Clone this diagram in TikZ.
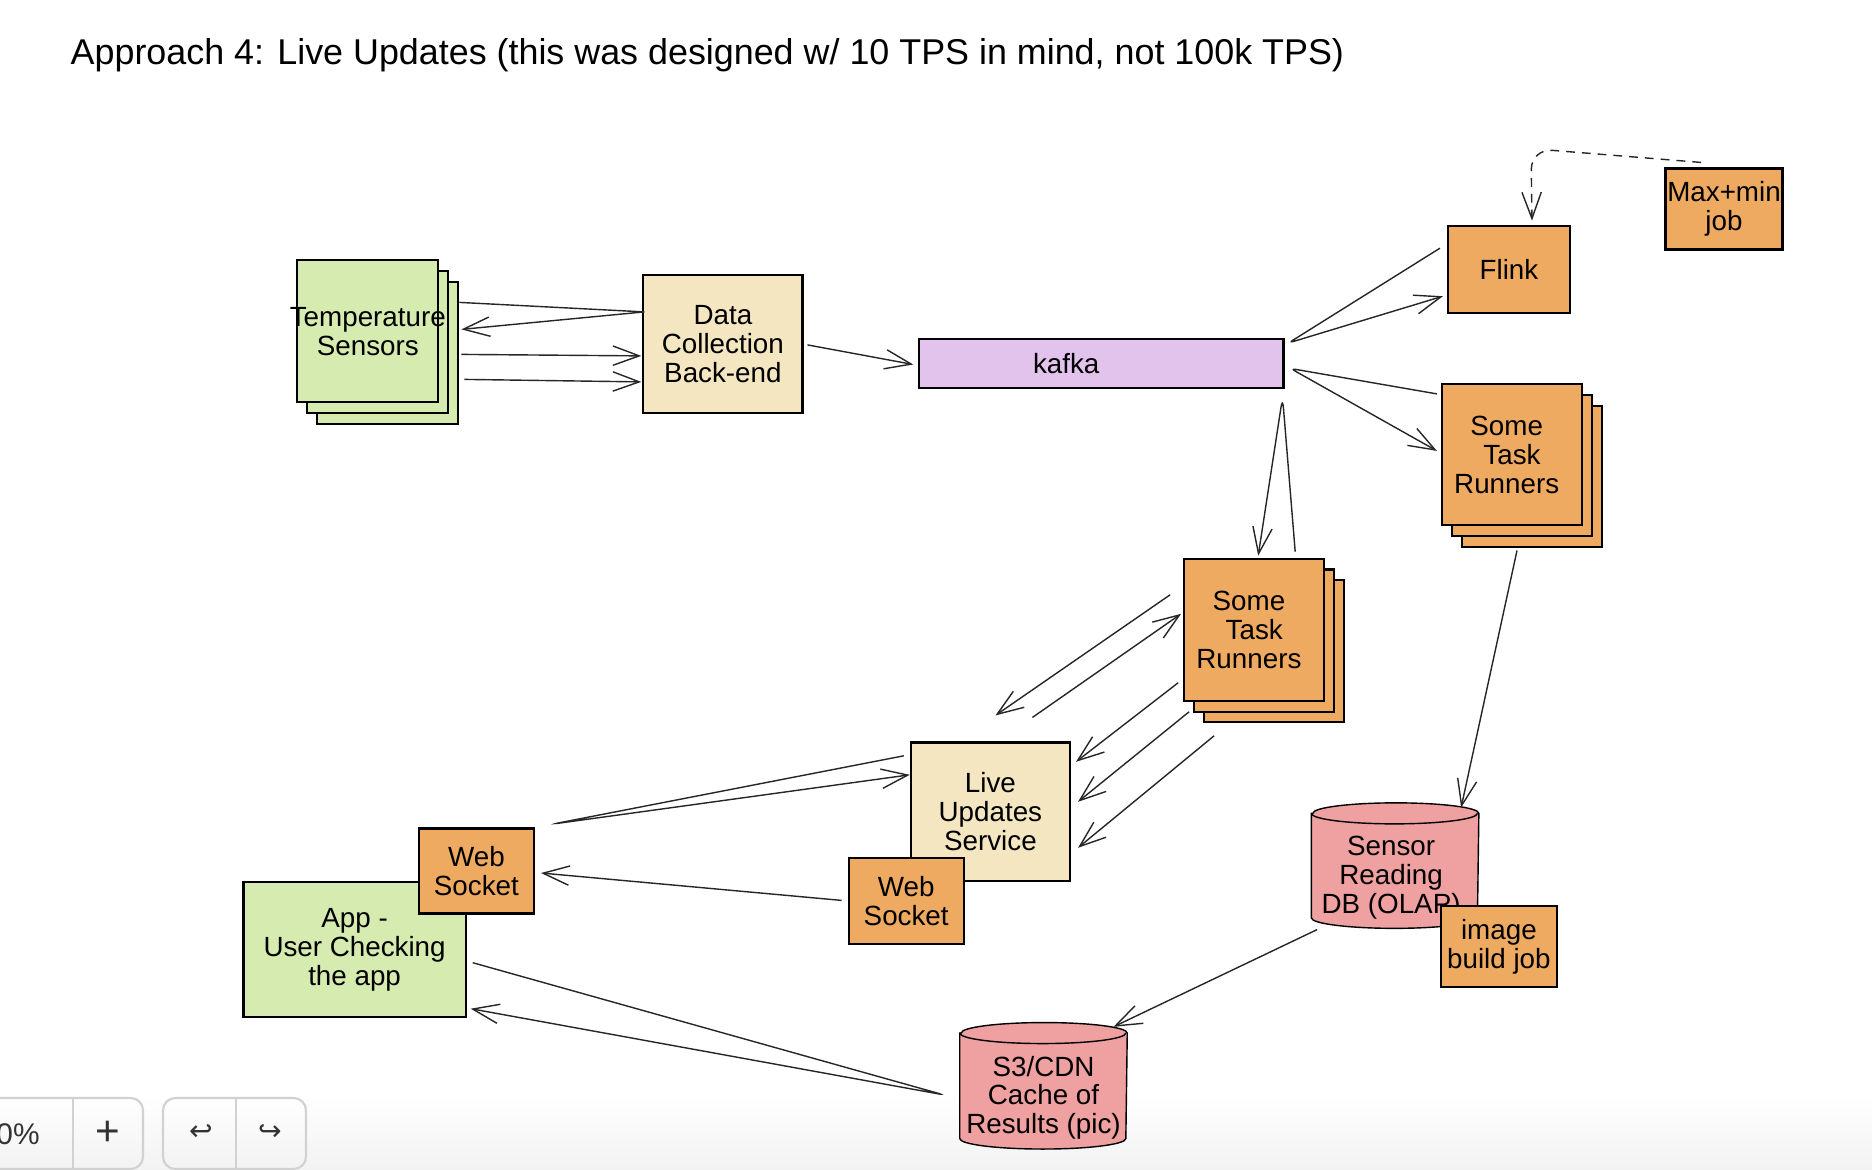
\documentclass[tikz,border=0pt]{standalone}
\usepackage{fontspec}
\setmainfont{Liberation Sans}
\newfontfamily\symfont{DejaVu Sans}
\usetikzlibrary{arrows.meta,calc,shadows}

\definecolor{sensorgreen}{HTML}{D6EBB0}
\definecolor{servicetan}{HTML}{F3E6C0}
\definecolor{kafkapurple}{HTML}{E1C3EC}
\definecolor{joborange}{HTML}{EEAA60}
\definecolor{storepink}{HTML}{EFA0A0}

\begin{document}
\begin{tikzpicture}[x=0.01cm, y=-0.01cm,
  box/.style={rectangle, draw=black, line width=0.6pt, inner sep=0pt, align=center,
    font=\fontsize{7.9}{8.2}\selectfont},
  stack/.style={box, fill=#1,
    copy shadow={shadow xshift=5.6pt, shadow yshift=-6.1pt, fill=#1, draw=black, line width=0.6pt},
    copy shadow={shadow xshift=2.8pt, shadow yshift=-3.05pt, fill=#1, draw=black, line width=0.6pt}},
  store/.style={rectangle, inner sep=0pt, minimum width=1.66cm},
  storetext/.style={font=\fontsize{7.9}{8.2}\selectfont, align=center, inner sep=0pt},
  arr/.style={-{Straight Barb[length=7.5pt,width=5.5pt]}, line width=0.4pt, draw=black!85},
  tool/.style={draw=black!18, line width=0.6pt, rounded corners=3.5pt},
  tooltext/.style={font=\fontsize{8.5}{9}\selectfont, text=black!80, inner sep=0pt}
]
\useasboundingbox (0,0) rectangle (1872,1170);

% bottom fade
\shade[top color=white, bottom color=black!5] (0,1095) rectangle (1872,1170);

% Title
\node[anchor=west, inner sep=0pt, font=\fontsize{10.2}{12}\selectfont] (title) at (70,55)
  {Approach 4: Live Updates (this was designed w/ 10 TPS in mind, not 100k TPS)};

% Intake
\node[stack=sensorgreen, minimum width=1.41cm, minimum height=1.42cm] (sensors) at (367.8,331.4)
  {\makebox[0pt]{Temperature}\\Sensors};
\node[box, fill=servicetan, minimum width=1.59cm, minimum height=1.385cm] (dc) at (722.9,343.9)
  {Data\\Collection\\Back-end};
\node[box, fill=kafkapurple, minimum width=3.64cm, minimum height=0.49cm] (kafka) at (1101.4,363.5)
  {kafka\hspace*{20pt}};

% Consumers
\node[box, fill=joborange, minimum width=1.22cm, minimum height=0.87cm] (flink) at (1509,269.2) {Flink};
\node[box, fill=joborange, minimum width=1.17cm, minimum height=0.81cm] (maxmin) at (1724,209) {Max+min\\job};
\node[stack=joborange, minimum width=1.40cm, minimum height=1.41cm] (tr1) at (1512,454.9)
  {Some\hspace*{3pt}\\Task\hspace*{3pt}\\Runners\hspace*{3pt}};
\node[stack=joborange, minimum width=1.40cm, minimum height=1.42cm] (tr2) at (1254.2,629.8)
  {Some\hspace*{3pt}\\Task\hspace*{3pt}\\Runners\hspace*{3pt}};

% Live updates
\node[box, fill=servicetan, minimum width=1.59cm, minimum height=1.385cm] (lus) at (990.4,811.8)
  {Live\\Updates\\Service};
\node[box, fill=joborange, minimum width=1.15cm, minimum height=0.86cm] (luws) at (906.2,901.4) {Web\\Socket};
\node[box, fill=sensorgreen, minimum width=2.22cm, minimum height=1.35cm] (app) at (354.6,949.7)
  {App -\\User Checking\\the app};
\node[box, fill=joborange, minimum width=1.15cm, minimum height=0.85cm] (appws) at (476.4,871) {Web\\Socket};

% Storage
\node[store, minimum height=1.24cm] (db) at (1395.1,865.6) {};
\node[store, minimum height=1.25cm] (s3) at (1043.5,1085.8) {};
\foreach \n in {db,s3}
{
    \filldraw[fill=storepink, line width=0.4pt] ($(\n.north west)+(0,10.5)$) -- ($(\n.south west)+(0,-10.5)$)
        arc[start angle=180, end angle=360, x radius=0.83cm, y radius=0.105cm]
        -- ($(\n.north east)+(0,10.5)$)
        arc[start angle=0, end angle=180, x radius=0.83cm, y radius=0.105cm] -- cycle;
    \draw[line width=0.4pt] ($(\n.north west)+(0,10.5)$)
        arc[start angle=180, end angle=360, x radius=0.83cm, y radius=0.105cm];
}
\node[storetext] (dbtext) at ($(db.center)+(-4,12)$) {Sensor\\Reading\\DB (OLAP)};
\node[storetext] (s3text) at ($(s3.center)+(0,12)$) {S3/CDN\\Cache of\\Results (pic)};
\node[box, fill=joborange, minimum width=1.16cm, minimum height=0.81cm] (ibj) at (1498.9,946.8) {image\\build job};

% Sensors <-> collection
\draw[arr] ($(sensors.east)+(20,-29)$) -- ($(dc.west)+(2,-32)$) -- ($(sensors.east)+(22,-2)$);
\draw[arr] ($(sensors.east)+(22,23)$) -- ($(dc.west)+(-1,12)$);
\draw[arr] ($(sensors.east)+(25,48)$) -- ($(dc.west)+(-1,38)$);

% Collection -> kafka
\draw[arr] ($(dc.east)+(4,1)$) -- ($(kafka.west)+(-5,1)$);

% kafka fan-out
\draw[arr, rounded corners=1.5pt] ($(flink.west)+(-7,-21)$) -- ($(kafka.north east)+(4,5)$) -- ($(flink.west)+(-4,27)$);
\draw[arr, rounded corners=1.5pt] ($(tr1.west)+(-4,-61)$) -- ($(kafka.east)+(6,5)$) -- ($(tr1.west)+(-4,-4)$);
\draw[arr, rounded corners=3pt] ($(tr2.north)+(41,-6)$) -- ($(kafka.south east)+(-2,8)$) -- ($(tr2.north)+(4,-2)$);

% Max+min -> Flink
\draw[arr, dash pattern=on 2.5pt off 2pt, rounded corners=6pt] ($(maxmin.north)+(-23,-5)$)
  -- ($(flink.north)+(22,-76)$) -- ($(flink.north)+(23,-4)$);

% Task runners <-> live updates
\draw[arr] ($(tr2.west)+(-13,-35)$) -- ($(lus.north)+(5,-26)$);
\draw[arr] ($(lus.north)+(42,-24)$) -- ($(tr2.west)+(-2,-16)$);
\foreach \sx/\sy/\ex/\ey in {-5/53/5/-50, 6/82/7/-10, 31/106/7/36}
{
    \draw[arr] ($(tr2.west)+(\sx,\sy)$) -- ($(lus.east)+(\ex,\ey)$);
}

% Task runners -> DB -> S3
\draw[arr] ($(tr1.south)+(5,24)$) -- ($(db.center)+(66,-58)$);
\draw[arr] ($(db.center)+(-78,64)$) -- ($(s3.center)+(70,-59)$);

% App <-> live updates
\draw[arr, rounded corners=1.5pt] ($(lus.west)+(-6,-56)$) -- ($(appws.east)+(18,-47)$) -- ($(lus.west)+(0,-37)$);
\draw[arr] ($(luws.west)+(-6,-1)$) -- ($(appws.east)+(6,2)$);

% App <-> S3
\draw[arr, rounded corners=1.5pt] ($(app.east)+(6,13)$) -- ($(s3.center)+(-100,9)$) -- ($(app.east)+(4,59)$);

% Toolbar
\draw[tool] (-20,1098) rectangle (143,1169);
\draw[tool] (73,1098) -- (73,1169);
\node[tooltext] (zoomlevel) at (18,1134) {0\%};
\node[tooltext, font=\fontsize{12}{12}\selectfont] (zoomin) at (108,1133) {+};
\draw[tool] (163,1098) rectangle (306,1169);
\draw[tool] (236,1098) -- (236,1169);
\node[tooltext, font=\symfont\fontsize{8}{8}\selectfont] (undo) at (201,1133) {↩};
\node[tooltext, font=\symfont\fontsize{8}{8}\selectfont] (redo) at (270,1133) {↪};

\end{tikzpicture}
\end{document}
